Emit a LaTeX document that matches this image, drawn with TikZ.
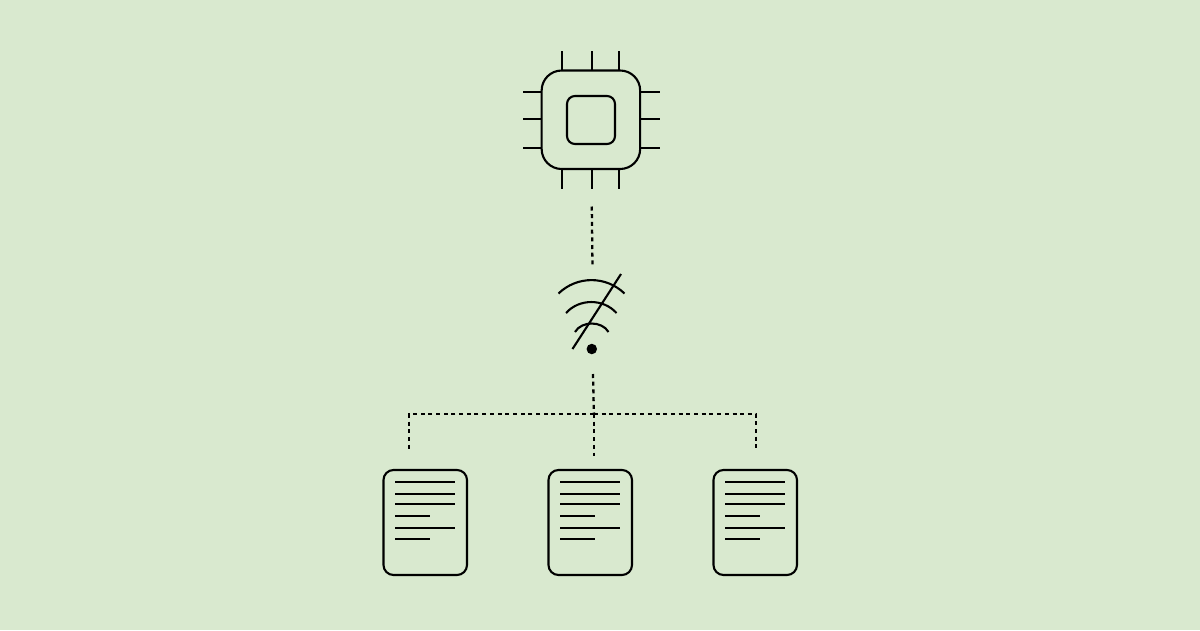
\documentclass[tikz,border=0pt]{standalone}
\usepackage{tikz}
\definecolor{paleleaf}{HTML}{D9E9CF}
\tikzset{
  solidline/.style={line width=2.1pt,black},
  thinline/.style={line width=2.1pt,black},
  dotline/.style={line width=2.3pt,black,dash pattern=on 4pt off 3.7pt},
  chipbox/.style={solidline,draw,rounded corners=#1,inner sep=0pt,outer sep=0pt},
  pagebox/.style={solidline,draw,rounded corners=10pt,inner sep=0pt,outer sep=0pt,minimum width=83.5pt,minimum height=105pt},
}
\begin{document}
\begin{tikzpicture}[x=1pt,y=-1pt]
  \fill[paleleaf] (0,0) rectangle (1200,630);
  \useasboundingbox (0,0) rectangle (1200,630);
  % chip
  \node[chipbox=20pt,minimum size=98.5pt] (chip) at (590.9,119.75) {};
  \node[chipbox=8pt,minimum size=48pt] (core) at (591,120) {};
  \foreach \x in {562.3,591.7,619.3} {
    \draw[solidline] (\x,51) -- (\x,70.5);
    \draw[solidline] (\x,169) -- (\x,188.5);
  }
  \foreach \y in {92,119,148} {
    \draw[solidline] (523,\y) -- (541.5,\y);
    \draw[solidline] (640,\y) -- (660,\y);
  }
  % link to wifi
  \coordinate (linktop) at (591.8,206.5);
  \coordinate (linkend) at (592.5,268);
  \draw[dotline] (linktop) -- (linkend);
  % wifi
  \node[circle,fill=black,inner sep=0pt,minimum size=10.5pt] (dot) at (591.8,349) {};
  \coordinate (outerL) at (558.5,293.5);
  \coordinate (outerR) at (624.5,293.5);
  \coordinate (midL) at (566,313);
  \coordinate (midR) at (616.5,313);
  \coordinate (innerL) at (575,332);
  \coordinate (innerR) at (608.5,332);
  \coordinate (slashA) at (572.5,349);
  \coordinate (slashB) at (621,274);
  \draw[solidline] (outerL) to[bend left=44] (outerR);
  \draw[solidline] (midL) to[bend left=48] (midR);
  \draw[solidline] (innerL) to[bend left=60] (innerR);
  \draw[solidline] (slashA) -- (slashB);
  % pages
  \node[pagebox] (page1) at (425.25,522.5) {};
  \node[pagebox] (page2) at (590.25,522.5) {};
  \node[pagebox] (page3) at (755.25,522.5) {};
  \foreach \p in {1,2,3} {
    \foreach \y/\w in {-40.5/60,-28.5/60,-18.5/60,-6.5/35,5.5/60,16.5/35} {
      \draw[thinline] ([xshift=-30.25pt,yshift=-\y pt]page\p.center) -- ++(\w,0);
    }
  }
  % tree
  \coordinate (split) at (593.9,414);
  \coordinate (stem) at (593,374);
  \coordinate (dropL) at (409,449);
  \coordinate (dropM) at (593.9,456);
  \coordinate (dropR) at (756,449);
  \draw[dotline] (stem) -- (split);
  \draw[dotline] (split) -| (dropL);
  \draw[dotline] (split) -| (dropR);
  \draw[dotline] (split) -- (dropM);
\end{tikzpicture}
\end{document}
